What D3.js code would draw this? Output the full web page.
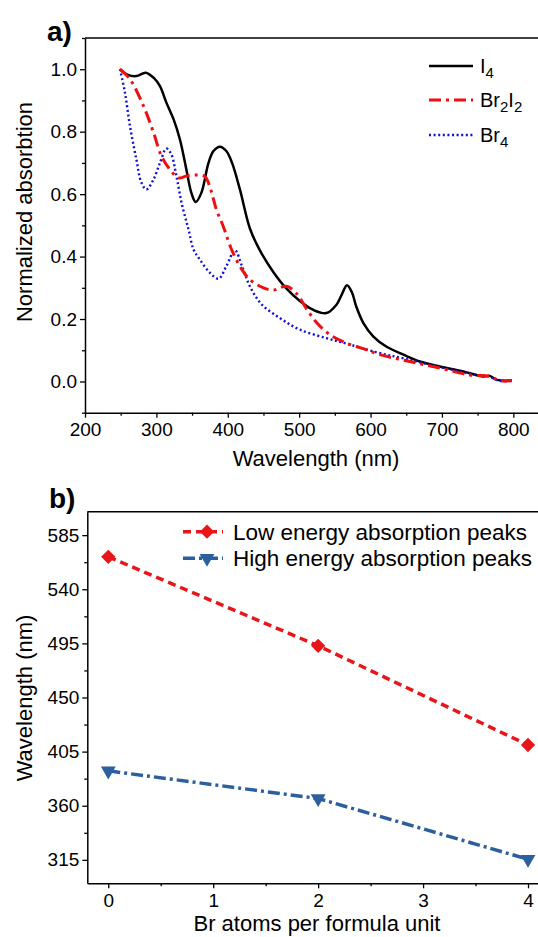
<!DOCTYPE html>
<html lang="en">
<head>
  <meta charset="UTF-8">
  <script src="https://cdn.jsdelivr.net/npm/d3@7"></script>
  <title>Absorption</title>
  <style>
    body { margin: 0; background: #fff; }
    text { font-family: 'Liberation Sans', Arial, sans-serif; fill: #000; }
  </style>
</head>
<body>
  <svg id="chart" width="538" height="937"></svg>
  <script>
    // panel a: normalized absorption spectra
    const wlI4 = [249, 260, 272, 285, 296, 305, 314, 324, 333, 342, 349, 355, 363, 373, 380, 389, 398, 406, 417, 431, 445, 464, 482, 501, 520, 538, 552, 560, 567, 574, 580, 590, 604, 622, 646, 669, 697, 730, 758, 767, 777, 798];
    const absI4 = [1.0, 0.982, 0.978, 0.989, 0.973, 0.946, 0.893, 0.84, 0.775, 0.679, 0.604, 0.575, 0.604, 0.70, 0.738, 0.752, 0.738, 0.70, 0.615, 0.49, 0.42, 0.35, 0.298, 0.258, 0.229, 0.219, 0.245, 0.28, 0.308, 0.285, 0.24, 0.187, 0.144, 0.112, 0.086, 0.064, 0.048, 0.032, 0.016, 0.018, 0.005, 0.003];

    const wlBr2I2 = [249, 263, 282, 296, 307, 319, 331, 342, 356, 368, 376, 384, 394, 404, 417, 431, 450, 464, 482, 497, 511, 525, 543, 567, 590, 613, 655, 697, 739, 767, 781, 798];
    const absBr2I2 = [1.0, 0.968, 0.882, 0.797, 0.722, 0.679, 0.652, 0.658, 0.661, 0.656, 0.615, 0.551, 0.495, 0.43, 0.369, 0.326, 0.30, 0.293, 0.305, 0.28, 0.23, 0.187, 0.15, 0.122, 0.105, 0.086, 0.064, 0.043, 0.021, 0.016, 0.003, 0.003];

    const wlBr4 = [249, 256, 263, 272, 279, 286, 296, 305, 314, 321, 328, 336, 345, 352, 361, 375, 387, 398, 410, 420, 431, 447, 473, 501, 538, 567, 609, 646, 697, 749, 763, 781, 800];
    const absBr4 = [1.0, 0.925, 0.818, 0.711, 0.637, 0.615, 0.647, 0.70, 0.746, 0.727, 0.658, 0.565, 0.487, 0.423, 0.39, 0.348, 0.329, 0.369, 0.42, 0.369, 0.305, 0.248, 0.203, 0.166, 0.139, 0.121, 0.093, 0.074, 0.046, 0.021, 0.018, 0.002, 0.002];

    // panel b: peak positions
    const brAtoms = [0, 2, 4];
    const lowPeaks = [567, 493, 410.5];
    const highPeaks = [389, 366, 315.5];

    const svg = d3.select("#chart");
    svg.append("rect").attr("width", 538).attr("height", 937).attr("fill", "#fff");

    function drawAxes(g, x, y, xMajor, xMinor, xFmt, yMajor, yMinor, yFmt) {
      const [x0, x1] = x.range();
      const [y0, y1] = y.range();
      g.append("g").attr("transform", `translate(0,${y0})`)
        .call(d3.axisBottom(x).tickValues(xMajor).tickSize(5).tickPadding(5).tickFormat(xFmt).tickSizeOuter(0));
      g.append("g").attr("transform", `translate(0,${y0})`)
        .call(d3.axisBottom(x).tickValues(xMinor).tickSize(3).tickFormat("").tickSizeOuter(0))
        .select(".domain").remove();
      g.append("g").attr("transform", `translate(${x0},0)`)
        .call(d3.axisLeft(y).tickValues(yMajor).tickSize(5).tickPadding(3).tickFormat(yFmt).tickSizeOuter(0));
      g.append("g").attr("transform", `translate(${x0},0)`)
        .call(d3.axisLeft(y).tickValues(yMinor).tickSize(3).tickFormat("").tickSizeOuter(0))
        .select(".domain").remove();
      g.append("line").attr("x1", x0).attr("x2", x1).attr("y1", y1).attr("y2", y1)
        .attr("stroke", "#000").attr("stroke-width", 1.5);
      g.selectAll(".domain").attr("stroke-width", 1.5);
      g.selectAll(".tick line").attr("stroke-width", 1.3);
      g.selectAll(".tick text").style("font-size", "19px").style("font-family", "'Liberation Sans', Arial, sans-serif");
    }

    // ---------- panel a ----------
    const xa = d3.scaleLinear().domain([200, 850]).range([85, 549]);
    const ya = d3.scaleLinear().domain([-0.1, 1.1]).range([412.7, 38]);
    const ga = svg.append("g");
    drawAxes(ga, xa, ya,
      d3.range(200, 801, 100), d3.range(250, 851, 100), d3.format("d"),
      d3.range(0, 1.01, 0.2), d3.range(-0.1, 1.11, 0.2), d3.format(".1f"));

    const specLine = d3.line().x(d => xa(d[0])).y(d => ya(d[1])).curve(d3.curveCatmullRom.alpha(0.5));
    const spectra = [
      { wl: wlI4, ab: absI4, color: "#000", dash: null, w: 2.5 },
      { wl: wlBr4, ab: absBr4, color: "#1010d8", dash: "2,2.6", w: 2.4 },
      { wl: wlBr2I2, ab: absBr2I2, color: "#ee1010", dash: "12,5,3,5", w: 3 }
    ];
    spectra.forEach(s => {
      ga.append("path").datum(d3.zip(s.wl, s.ab))
        .attr("d", specLine).attr("fill", "none")
        .attr("stroke", s.color).attr("stroke-width", s.w)
        .attr("stroke-dasharray", s.dash);
    });

    // legend a
    const legA = [
      { name: "I", sub: ["4"], color: "#000", dash: null, w: 2.5 },
      { name: "Br", sub: ["2", "I", "2"], color: "#ee1010", dash: "12,5,3,5", w: 3 },
      { name: "Br", sub: ["4"], color: "#1010d8", dash: "2,2.6", w: 2.4 }
    ];
    const legY = [66, 100, 135];
    legA.forEach((d, i) => {
      ga.append("line").attr("x1", 429).attr("x2", 473).attr("y1", legY[i]).attr("y2", legY[i])
        .attr("stroke", d.color).attr("stroke-width", d.w).attr("stroke-dasharray", d.dash);
      const t = ga.append("text").attr("x", 480).attr("y", legY[i] + 7).style("font-size", "20px");
      t.append("tspan").text(d.name);
      t.append("tspan").attr("dy", 5).style("font-size", "15px").text(d.sub[0]);
      if (d.sub.length > 1) {
        t.append("tspan").attr("dy", -5).text(d.sub[1]);
        t.append("tspan").attr("dy", 5).style("font-size", "15px").text(d.sub[2]);
      }
    });

    svg.append("text").attr("x", 47).attr("y", 41).style("font-size", "28px").style("font-weight", "bold").text("a)");
    svg.append("text").attr("x", 316).attr("y", 466).attr("text-anchor", "middle").style("font-size", "22px").text("Wavelength (nm)");
    svg.append("text").attr("transform", "translate(32,212) rotate(-90)").attr("text-anchor", "middle")
      .style("font-size", "22px").text("Normalized absorbtion");

    // ---------- panel b ----------
    const xb = d3.scaleLinear().domain([-0.2, 4.2]).range([87.3, 549]);
    const yb = d3.scaleLinear().domain([295.5, 604.5]).range([883.3, 511.7]);
    const gb = svg.append("g");
    drawAxes(gb, xb, yb,
      [0, 1, 2, 3, 4], [0.5, 1.5, 2.5, 3.5], d3.format("d"),
      d3.range(315, 586, 45), d3.range(337.5, 563, 45), d3.format("d"));

    const peakLine = d3.line().x(d => xb(d[0])).y(d => yb(d[1]));
    const red = "#e8151b", blue = "#2c5f9e";
    const diamond = d3.symbol().type(d3.symbolDiamond2).size(130);
    const tri = d3.symbol().type(d3.symbolTriangle).size(95);

    gb.append("path").datum(d3.zip(brAtoms, lowPeaks)).attr("d", peakLine)
      .attr("fill", "none").attr("stroke", red).attr("stroke-width", 3.5).attr("stroke-dasharray", "8,5");
    gb.append("path").datum(d3.zip(brAtoms, highPeaks)).attr("d", peakLine)
      .attr("fill", "none").attr("stroke", blue).attr("stroke-width", 3.5).attr("stroke-dasharray", "12,4,3,4");

    gb.selectAll("path.low").data(d3.zip(brAtoms, lowPeaks)).enter().append("path").attr("class", "low")
      .attr("d", diamond).attr("fill", red)
      .attr("transform", d => `translate(${xb(d[0])},${yb(d[1])})`);
    gb.selectAll("path.high").data(d3.zip(brAtoms, highPeaks)).enter().append("path").attr("class", "high")
      .attr("d", tri).attr("fill", blue)
      .attr("transform", d => `translate(${xb(d[0])},${yb(d[1])}) rotate(180)`);

    // legend b
    const legB = [
      { label: "Low energy absorption peaks", color: red, dash: "8,5", sym: diamond, rot: 0 },
      { label: "High energy absorption peaks", color: blue, dash: "12,4,3,4", sym: tri, rot: 180 }
    ];
    const legBY = [531.7, 558.3];
    legB.forEach((d, i) => {
      gb.append("line").attr("x1", 183).attr("x2", 223).attr("y1", legBY[i]).attr("y2", legBY[i])
        .attr("stroke", d.color).attr("stroke-width", 3.5).attr("stroke-dasharray", d.dash);
      gb.append("path").attr("d", d.sym).attr("fill", d.color)
        .attr("transform", `translate(207,${legBY[i]}) rotate(${d.rot})`);
      gb.append("text").attr("x", 233).attr("y", legBY[i] + 8).style("font-size", "22.5px").text(d.label);
    });

    svg.append("text").attr("x", 49).attr("y", 508).style("font-size", "28px").style("font-weight", "bold").text("b)");
    svg.append("text").attr("x", 317).attr("y", 931).attr("text-anchor", "middle").style("font-size", "22px").text("Br atoms per formula unit");
    svg.append("text").attr("transform", "translate(32,698) rotate(-90)").attr("text-anchor", "middle")
      .style("font-size", "22px").text("Wavelength (nm)");
  </script>
</body>
</html>
